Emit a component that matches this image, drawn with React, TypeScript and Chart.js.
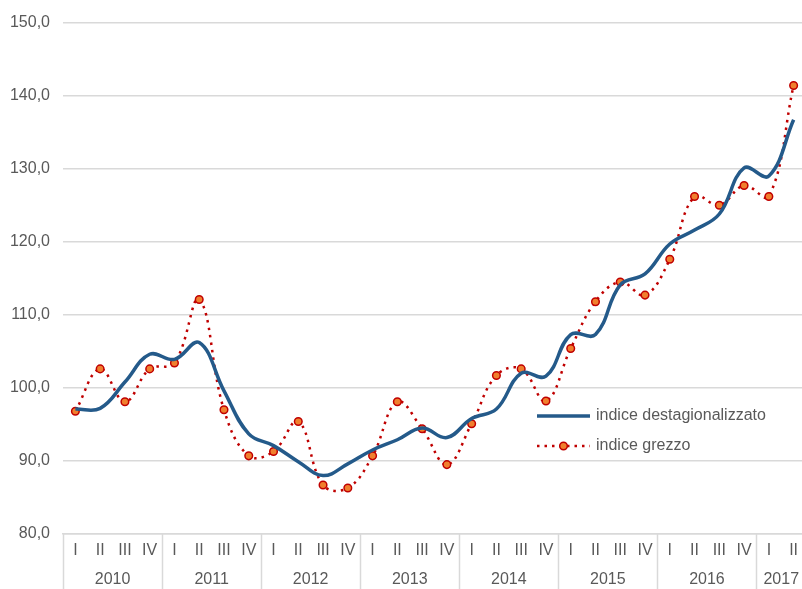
import React, { useEffect, useRef } from "react";
import { Chart, registerables } from "chart.js";

Chart.register(...registerables);

const quarters = [
  "I","II","III","IV","I","II","III","IV","I","II","III","IV","I","II","III","IV",
  "I","II","III","IV","I","II","III","IV","I","II","III","IV","I","II",
];
const years = ["2010", "2011", "2012", "2013", "2014", "2015", "2016", "2017"];
const yearQuarterCounts = [4, 4, 4, 4, 4, 4, 4, 2];

const destagionalizzato = [
  97.1, 97.2, 100.8, 104.6, 103.9, 106.2, 99.6, 93.7,
  92.1, 89.9, 88.0, 89.6, 91.5, 92.9, 94.5, 93.2,
  95.8, 97.1, 102.0, 101.6, 107.3, 107.3, 114.1, 115.6,
  119.7, 121.6, 123.8, 130.1, 129.0, 136.7,
];
const grezzo = [
  96.8, 102.6, 98.1, 102.6, 103.4, 112.1, 97.0, 90.7,
  91.3, 95.4, 86.7, 86.3, 90.7, 98.1, 94.4, 89.5,
  95.1, 101.7, 102.6, 98.2, 105.4, 111.8, 114.5, 112.7,
  117.6, 126.2, 125.0, 127.7, 126.2, 141.4,
];

const yTicks = [80, 90, 100, 110, 120, 130, 140, 150];

const FONT = "'Liberation Sans', Arial, sans-serif";
const FS = 16;
const TEXT = "#595959";
const GRID = "#d9d9d9";
const BLUE = "#245a8a";
const RED = "#c00000";
const ORANGE = "#f07f2e";

const customPlugin = {
  id: "customAxisLegend",
  afterDraw(chart: any) {
    const ctx = chart.ctx;
    const area = chart.chartArea;
    const H = chart.height;
    ctx.save();
    ctx.strokeStyle = GRID;
    ctx.lineWidth = 1.5;
    let idx = 0;
    const catW = (area.right - area.left) / quarters.length;
    const bounds: number[] = [0];
    yearQuarterCounts.forEach((c) => {
      idx += c;
      bounds.push(idx);
    });
    bounds.forEach((b) => {
      const x = Math.round(area.left + b * catW) + 0.5;
      ctx.beginPath();
      ctx.moveTo(x, area.bottom);
      ctx.lineTo(x, H);
      ctx.stroke();
    });
    ctx.fillStyle = TEXT;
    ctx.font = `${FS}px ${FONT}`;
    ctx.textAlign = "center";
    ctx.textBaseline = "middle";
    years.forEach((y, i) => {
      const x0 = area.left + bounds[i] * catW;
      const x1 = area.left + bounds[i + 1] * catW;
      ctx.fillText(y, (x0 + x1) / 2, 580);
    });

    // legend
    const lx0 = 537;
    const lx1 = 590;
    ctx.strokeStyle = BLUE;
    ctx.lineWidth = 3.5;
    ctx.beginPath();
    ctx.moveTo(lx0, 416);
    ctx.lineTo(lx1, 416);
    ctx.stroke();
    ctx.strokeStyle = RED;
    ctx.lineWidth = 2.5;
    ctx.setLineDash([2.5, 5]);
    ctx.beginPath();
    ctx.moveTo(lx0, 446);
    ctx.lineTo(lx1, 446);
    ctx.stroke();
    ctx.setLineDash([]);
    ctx.beginPath();
    ctx.arc(563.5, 446, 3.8, 0, Math.PI * 2);
    ctx.fillStyle = ORANGE;
    ctx.fill();
    ctx.lineWidth = 1.5;
    ctx.strokeStyle = RED;
    ctx.stroke();
    ctx.fillStyle = TEXT;
    ctx.textAlign = "left";
    ctx.font = `${FS}px ${FONT}`;
    ctx.fillText("indice destagionalizzato", 596, 416);
    ctx.fillText("indice grezzo", 596, 446);
    ctx.restore();
  },
};

export default function App() {
  const ref = useRef<HTMLCanvasElement>(null);
  useEffect(() => {
    if (!ref.current) return;
    const chart = new Chart(ref.current, {
      type: "line",
      data: {
        labels: quarters,
        datasets: [
          {
            label: "indice destagionalizzato",
            data: destagionalizzato,
            borderColor: BLUE,
            borderWidth: 3.5,
            pointRadius: 0,
            tension: 0.4,
            fill: false,
          },
          {
            label: "indice grezzo",
            data: grezzo,
            borderColor: RED,
            borderWidth: 2.5,
            borderDash: [2.5, 5],
            pointRadius: 3.8,
            pointBackgroundColor: ORANGE,
            pointBorderColor: RED,
            pointBorderWidth: 1.5,
            tension: 0.4,
            fill: false,
          },
        ],
      },
      options: {
        animation: false,
        responsive: false,
        layout: { padding: { top: 19, right: 6, left: 0, bottom: 0 } },
        plugins: { legend: { display: false }, tooltip: { enabled: false } },
        scales: {
          x: {
            offset: true,
            grid: { display: false, drawTicks: false },
            border: { display: true, color: GRID, width: 1.5 },
            ticks: {
              color: TEXT,
              font: { family: FONT, size: FS },
              padding: 7,
              autoSkip: false,
              maxRotation: 0,
            },
            afterFit(scale: any) {
              scale.height = 55;
            },
          },
          y: {
            min: 80,
            max: 150,
            afterBuildTicks(scale: any) {
              scale.ticks = yTicks.map((v) => ({ value: v }));
            },
            grid: { color: GRID, lineWidth: 1.5, drawTicks: false },
            border: { display: false },
            ticks: {
              color: TEXT,
              font: { family: FONT, size: FS },
              padding: 13,
              callback: (v: any) => Number(v).toFixed(1).replace(".", ","),
            },
            afterFit(scale: any) {
              scale.width = 63;
            },
          },
        },
      },
      plugins: [customPlugin],
    });
    return () => chart.destroy();
  }, []);
  return (
    <div
      style={{
        position: "fixed",
        left: 0,
        top: 0,
        width: 802,
        height: 589,
        overflow: "hidden",
        background: "#fff",
      }}
    >
      <canvas ref={ref} width={812} height={589} style={{ display: "block" }} />
    </div>
  );
}
